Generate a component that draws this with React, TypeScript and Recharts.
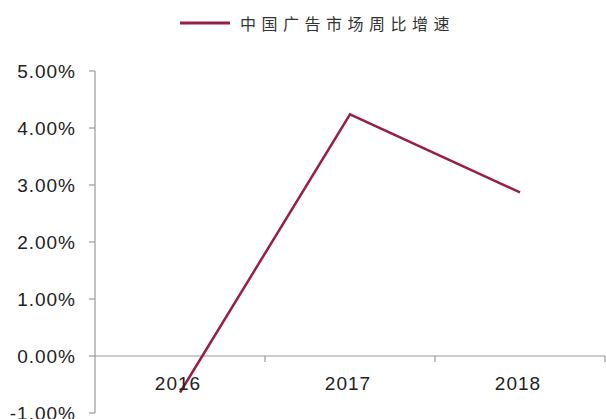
import React from 'react';
import { LineChart, Line, XAxis, YAxis, ReferenceLine, Legend } from 'recharts';

const categories = ['2016', '2017', '2018'];
const growth = [-0.64, 4.24, 2.87];
const yTicks = [-1, 0, 1, 2, 3, 4, 5];
const seriesName = '中国广告市场周比增速';

const data = categories.map((year, i) => ({ year, growth: growth[i] }));

const W = 606;
const H = 419;
const X_AXIS_H = 1;
const M = { top: 71, right: 1, bottom: 6 - X_AXIS_H, left: 0 };
const Y_AXIS_W = 95;
const plotH = H - M.top - M.bottom - X_AXIS_H;
const plotW = W - M.left - M.right - Y_AXIS_W;
const yMin = -1;
const yMax = 5;
const zeroY = M.top + (plotH * yMax) / (yMax - yMin);
const band = plotW / categories.length;

const LINE_COLOR = '#981d47';
const AXIS_COLOR = '#9a9a9a';
const FONT = 'Arial, "Liberation Sans", sans-serif';

const XTick = (props: any) => {
  const { x, payload } = props;
  return (
    <g>
      <line x1={x + band / 2} x2={x + band / 2} y1={zeroY} y2={zeroY + 6} stroke={AXIS_COLOR} strokeWidth={1.2} />
      <text x={x - 2} y={zeroY + 27} dy="0.355em" textAnchor="middle" fontSize={19} fill="#222" fontFamily={FONT} letterSpacing={1}>
        {payload.value}
      </text>
    </g>
  );
};

const LegendContent = () => (
  <div style={{ display: 'flex', alignItems: 'center', fontFamily: '"Noto Sans CJK SC", sans-serif' }}>
    <svg width={52} height={6}>
      <line x1={0} x2={50} y1={3} y2={3} stroke={LINE_COLOR} strokeWidth={3} />
    </svg>
    <span style={{ marginLeft: 8, fontSize: 16, letterSpacing: 5.5, color: '#333', lineHeight: '20px', whiteSpace: 'nowrap' }}>{seriesName}</span>
  </div>
);

export default function App() {
  return (
    <div style={{ position: 'absolute', left: 0, top: 0, background: '#fff' }}>
      <LineChart width={W} height={H} data={data} margin={M}>
        <Legend
          verticalAlign="middle"
          align="center"
          layout="horizontal"
          content={<LegendContent />}
          wrapperStyle={{ position: 'absolute', top: 13, left: 180, width: 'auto' }}
        />
        <XAxis
          dataKey="year"
          scale="band"
          axisLine={false}
          tickLine={false}
          height={X_AXIS_H}
          tick={<XTick />}
          interval={0}
        />
        <YAxis
          width={Y_AXIS_W}
          domain={[yMin, yMax]}
          ticks={yTicks}
          interval={0}
          tickFormatter={(v: number) => v.toFixed(2) + '%'}
          tickSize={6}
          tickMargin={13}
          axisLine={{ stroke: AXIS_COLOR, strokeWidth: 1.2 }}
          tickLine={{ stroke: AXIS_COLOR, strokeWidth: 1.2 }}
          tick={{ fontSize: 19, fill: '#222', fontFamily: FONT, letterSpacing: 1 }}
        />
        <ReferenceLine y={0} stroke={AXIS_COLOR} strokeWidth={1.2} />
        <Line
          type="linear"
          dataKey="growth"
          name={seriesName}
          stroke={LINE_COLOR}
          strokeWidth={2.5}
          dot={false}
          activeDot={false}
          isAnimationActive={false}
        />
      </LineChart>
    </div>
  );
}
